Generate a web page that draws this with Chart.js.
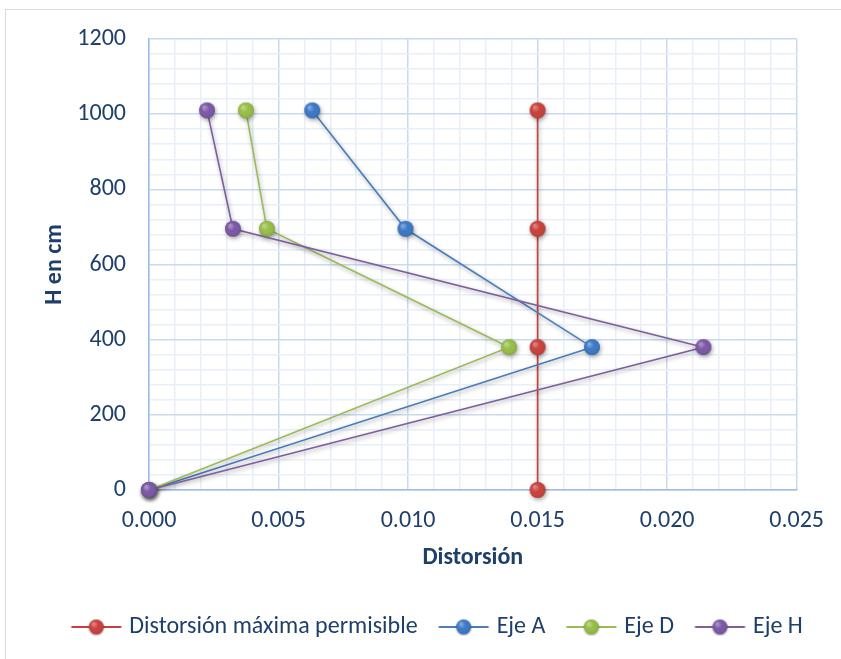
<!DOCTYPE html>
<html>
<head>
<meta charset="utf-8">
<script src="https://cdn.jsdelivr.net/npm/chart.js@4"></script>
<style>
  body { margin: 0; background: #fff; }
  #wrap { position: relative; width: 841px; height: 659px; overflow: hidden; }
  #frame { position: absolute; left: 5px; top: 9px; width: 900px; height: 700px; border: 1px solid #D3DDEA; }
  #chart { position: absolute; left: 0; top: 0; }
</style>
</head>
<body>
<div id="wrap">
  <div id="frame"></div>
  <canvas id="chart" width="841" height="659"></canvas>
</div>
<script>
  // Alturas (H en cm) y distorsiones por eje
  const heights = [0, 380, 695, 1010];
  const maxDrift = [0.015, 0.015, 0.015, 0.015];
  const ejeA = [0, 0.0171, 0.0099, 0.0063];
  const ejeD = [0, 0.0139, 0.00455, 0.00374];
  const ejeH = [0, 0.0214, 0.00324, 0.00224];

  const seriesNames = ['Distorsión máxima permisible', 'Eje A', 'Eje D', 'Eje H'];
  const seriesValues = [maxDrift, ejeA, ejeD, ejeH];
  const lineColors = ['#C8403C', '#4A7EBB', '#9BBB59', '#7D5FA0'];
  const dotColors = ['#C9403B', '#3A78C6', '#96BE45', '#7B56A6'];

  const FONT = 'Carlito, "Liberation Sans Narrow", "Open Sans", sans-serif';
  const TEXT = '#1F3F6B';

  // Marcador redondo con degradado
  function makeDot(color, r) {
    const c = document.createElement('canvas');
    c.width = r * 2 + 2;
    c.height = r * 2 + 2;
    const g = c.getContext('2d');
    const grad = g.createRadialGradient(r * 0.75, r * 0.7, 1, r + 1, r + 1, r);
    grad.addColorStop(0, 'rgba(255,255,255,0.35)');
    grad.addColorStop(0.45, 'rgba(255,255,255,0)');
    grad.addColorStop(1, 'rgba(0,0,0,0.12)');
    g.beginPath();
    g.arc(r + 1, r + 1, r, 0, Math.PI * 2);
    g.fillStyle = color;
    g.fill();
    g.fillStyle = grad;
    g.fill();
    return c;
  }

  // Icono de leyenda: línea con marcador (con margen izquierdo transparente)
  const ICON_W = 76, ICON_LINE_START = 22.5, ICON_LINE_LEN = 50;
  function makeLegendIcon(line, dot) {
    const h = 18;
    const c = document.createElement('canvas');
    c.width = ICON_W;
    c.height = h;
    const g = c.getContext('2d');
    g.strokeStyle = line;
    g.lineWidth = 2;
    g.beginPath();
    g.moveTo(ICON_LINE_START, h / 2);
    g.lineTo(ICON_LINE_START + ICON_LINE_LEN, h / 2);
    g.stroke();
    const mid = ICON_LINE_START + ICON_LINE_LEN / 2;
    g.shadowColor = 'rgba(0,0,0,0.3)';
    g.shadowBlur = 2;
    g.shadowOffsetY = 1;
    g.drawImage(makeDot(dot, 7.5), mid - 8.5, h / 2 - 8.5);
    return c;
  }

  const datasets = seriesNames.map((name, i) => ({
    label: name,
    data: heights.map((h, k) => ({ x: seriesValues[i][k], y: h })),
    showLine: true,
    borderColor: lineColors[i],
    borderWidth: 1.6,
    pointStyle: makeDot(dotColors[i], 8),
    pointRadius: 8,
    clip: false,
    order: 3 - i,
    legendIcon: makeLegendIcon(lineColors[i], dotColors[i])
  }));

  // Sombra suave de Excel para series
  const shadowPlugin = {
    id: 'shadow',
    beforeDatasetsDraw(chart) {
      const ctx = chart.ctx;
      ctx.save();
      ctx.shadowColor = 'rgba(0,0,0,0.35)';
      ctx.shadowBlur = 4;
      ctx.shadowOffsetX = 1;
      ctx.shadowOffsetY = 2;
    },
    afterDatasetsDraw(chart) {
      chart.ctx.restore();
    }
  };

  // Desplazar la leyenda para centrarla como en el original
  const legendShift = {
    id: 'legendShift',
    afterLayout(chart) {
      chart.legend.left += 21;
      chart.legend.right += 21;
    }
  };

  const isMajorX = v => Math.round(v * 1000) % 5 === 0;
  const isMajorY = v => Math.round(v) % 200 === 0;

  new Chart(document.getElementById('chart'), {
    type: 'scatter',
    data: { datasets },
    plugins: [shadowPlugin, legendShift],
    options: {
      responsive: false,
      animation: false,
      layout: { padding: { left: 20, right: 44, top: 39, bottom: 10 } },
      plugins: {
        tooltip: { enabled: false },
        legend: {
          position: 'bottom',
          labels: {
            usePointStyle: true,
            pointStyleWidth: 61,
            padding: 6,
            color: TEXT,
            font: { family: FONT, size: 24 },
            generateLabels: (chart) => chart.data.datasets.map((ds, i) => ({
              text: ds.label,
              pointStyle: ds.legendIcon,
              fillStyle: ds.borderColor,
              strokeStyle: ds.borderColor,
              lineWidth: 0,
              fontColor: TEXT,
              datasetIndex: i
            }))
          }
        }
      },
      scales: {
        x: {
          type: 'linear',
          min: 0,
          max: 0.025,
          afterFit: (s) => { s.height = 119; },
          ticks: {
            stepSize: 0.001,
            autoSkip: false,
            maxRotation: 0,
            padding: 17,
            color: TEXT,
            font: { family: FONT, size: 24 },
            callback: (v) => isMajorX(v) ? v.toFixed(3) : ''
          },
          grid: {
            drawTicks: false,
            color: (c) => isMajorX(c.tick.value) ? '#C9DAF0' : '#E8EFF9',
            lineWidth: 1.5
          },
          border: { color: '#9EBDE6', width: 1.5 },
          title: {
            display: true,
            text: 'Distorsión',
            color: TEXT,
            font: { family: FONT, size: 24, weight: 'bold' },
            padding: { top: 4, bottom: 37 }
          }
        },
        y: {
          type: 'linear',
          min: 0,
          max: 1200,
          afterFit: (s) => { s.width = 129; },
          ticks: {
            stepSize: 40,
            autoSkip: false,
            padding: 23,
            color: TEXT,
            font: { family: FONT, size: 24 },
            callback: (v) => isMajorY(v) ? String(v) : ''
          },
          grid: {
            drawTicks: false,
            color: (c) => isMajorY(c.tick.value) ? '#C9DAF0' : '#E8EFF9',
            lineWidth: 1.5
          },
          border: { color: '#9EBDE6', width: 1.5 },
          title: {
            display: true,
            text: 'H en cm',
            color: TEXT,
            font: { family: FONT, size: 24, weight: 'bold' },
            padding: { top: 21, bottom: 4 }
          }
        }
      }
    }
  });
</script>
</body>
</html>
